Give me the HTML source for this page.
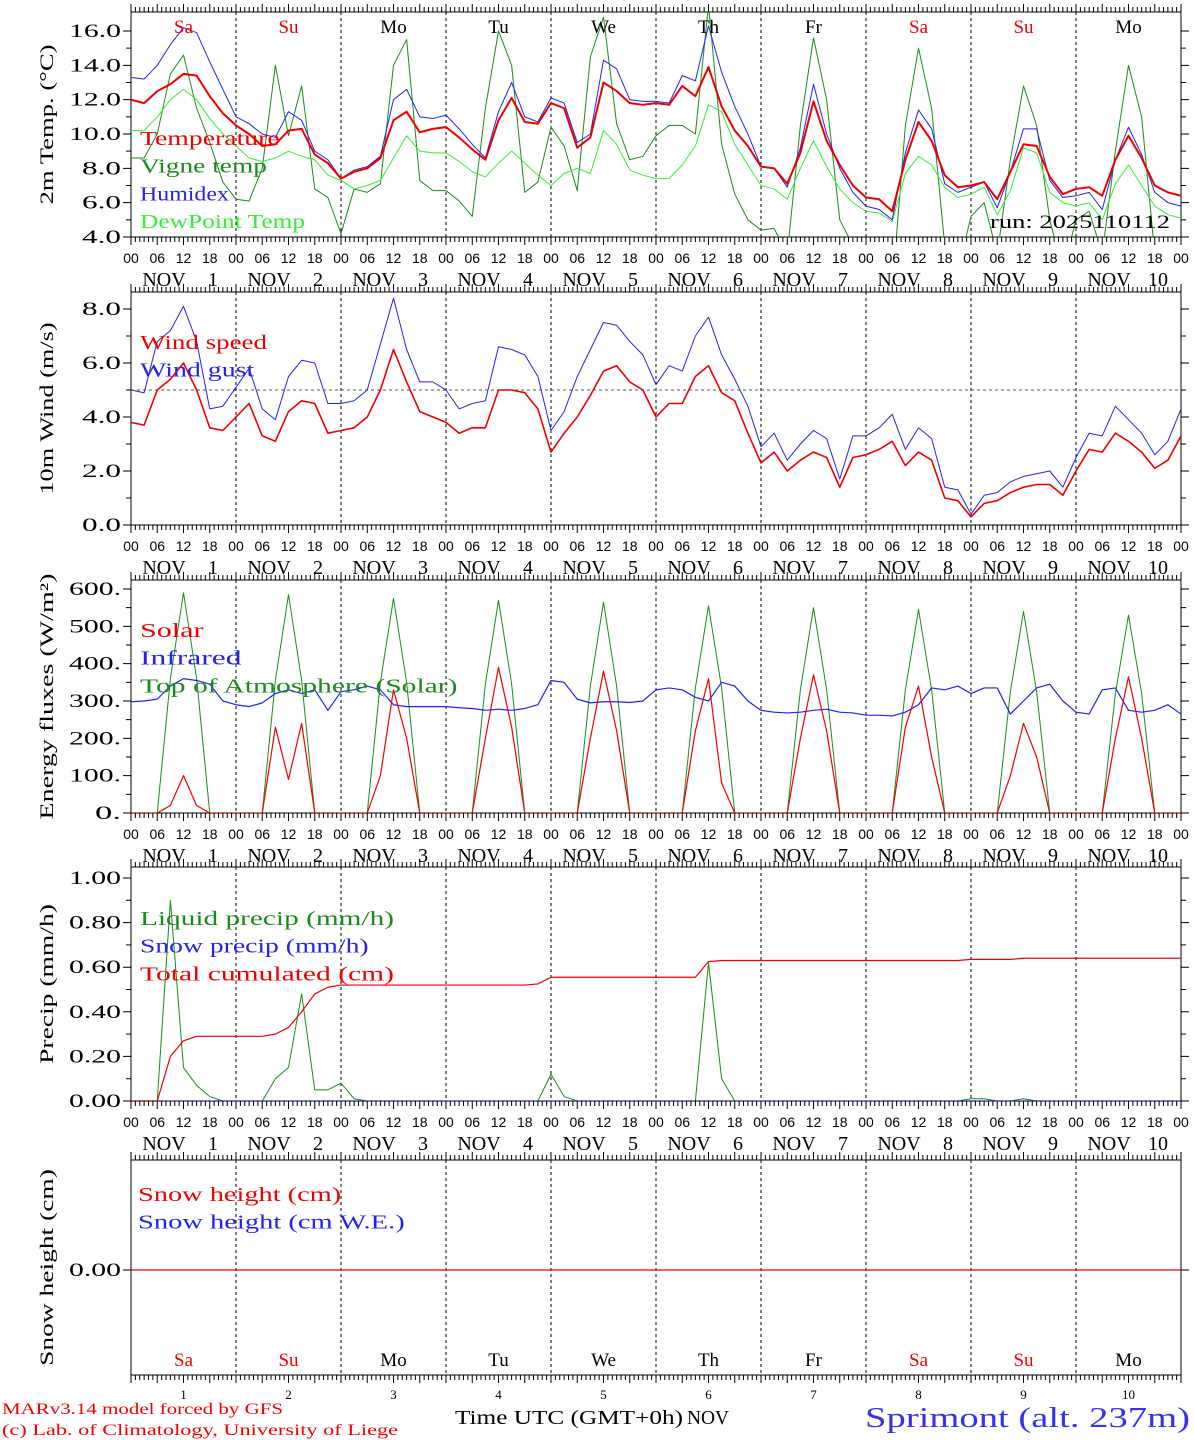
<!DOCTYPE html>
<html><head><meta charset="utf-8"><style>
html,body{margin:0;padding:0;background:#fff;}
svg{display:block;}
</style></head><body>
<svg id="c" width="1194" height="1440" viewBox="0 0 1194 1440" xmlns="http://www.w3.org/2000/svg" font-family="Liberation Serif, serif"></svg>
<script>
// ---- data (3-hourly, 81 points, Nov 1 00h .. Nov 11 00h) ----
const days = ["1","2","3","4","5","6","7","8","9","10"];
const dayNames = ["Sa","Su","Mo","Tu","We","Th","Fr","Sa","Su","Mo"];
const hourLabels = ["00","06","12","18"];
const tempTicks = [4,6,8,10,12,14,16];
const windTicks = [0,2,4,6,8];
const fluxTicks = [0,100,200,300,400,500,600];
const precipTicks = [0,0.2,0.4,0.6,0.8,1.0];
const temperature = [12.0,11.8,12.5,12.9,13.5,13.4,12.2,11.2, 10.5,10.0,9.3,9.4,10.2,10.3,8.8,8.3, 7.4,7.8,8.0,8.6,10.8,11.3,10.1,10.3, 10.4,9.8,9.1,8.5,10.8,12.1,10.7,10.6, 11.8,11.5,9.2,9.8,13.0,12.5,11.8,11.7, 11.8,11.7,12.8,12.2,13.9,11.6,10.2,9.3, 8.1,8.0,7.1,8.9,11.9,9.6,8.2,7.0, 6.3,6.2,5.5,8.5,10.7,9.6,7.6,6.9, 7.0,7.2,6.2,7.8,9.4,9.3,7.5,6.5, 6.8,6.9,6.4,8.5,9.9,8.6,7.0,6.6,6.4];
const humidex = [13.3,13.2,14.0,15.2,16.2,15.9,14.2,12.6, 11.0,10.6,10.0,9.8,11.3,10.8,9.0,8.5, 7.4,7.9,8.1,8.7,12.0,12.6,11.0,10.9, 11.1,10.3,9.4,8.6,11.3,13.0,11.0,10.7, 12.1,11.8,9.5,10.0,14.3,13.8,12.0,11.9, 11.9,11.8,13.4,13.1,16.3,13.6,11.6,10.0, 8.1,8.0,6.9,9.2,12.9,10.0,8.0,6.6, 5.8,5.6,5.0,8.9,11.4,10.3,7.1,6.6, 6.9,7.2,5.7,7.8,10.3,10.3,7.3,6.3, 6.4,6.6,5.6,8.5,10.4,8.8,6.6,6.0,5.8];
const dewpoint = [10.2,10.2,11.0,12.0,12.6,12.0,10.9,10.0, 9.3,8.6,8.4,8.6,9.0,8.7,8.5,7.6, 7.3,6.8,7.0,7.3,8.6,9.9,9.0,8.9, 8.9,8.4,7.8,7.5,8.3,9.0,8.3,7.6, 7.0,7.7,8.0,7.7,10.2,9.4,7.9,7.6, 7.4,7.4,8.2,9.3,11.7,11.3,9.4,8.2, 7.0,6.8,6.2,8.0,9.6,8.1,6.8,6.0, 5.5,5.4,4.9,7.7,8.7,8.2,6.9,6.3, 6.5,6.9,5.3,6.7,9.2,8.9,6.6,6.0, 5.8,6.0,5.0,7.1,8.2,7.0,5.8,5.3,5.1];
const vigne = [8.6,8.6,10.0,13.5,14.6,11.5,9.5,7.2, 6.2,6.1,8.0,14.0,9.9,12.8,6.8,6.3, 4.2,6.8,6.6,7.1,14.0,15.5,7.3,6.7, 6.7,6.1,5.2,11.5,16.0,14.0,6.6,7.2, 10.4,9.3,6.7,14.5,16.8,10.6,8.5,8.7, 9.9,10.5,10.5,10.0,17.5,9.4,6.5,5.0, 4.4,4.5,3.0,10.5,15.6,12.0,5.0,3.5, 2.0,1.5,1.0,10.5,15.0,11.5,3.5,2.0, 5.2,6.0,3.0,8.5,12.8,10.5,5.0,2.0, 5.0,5.5,3.0,9.0,14.0,11.0,3.0,2.0,1.5];
const windSpeed = [3.8,3.7,5.0,5.4,6.0,5.0,3.6,3.5, 4.0,4.5,3.3,3.1,4.2,4.6,4.5,3.4, 3.5,3.6,4.0,5.0,6.5,5.3,4.2,4.0, 3.8,3.4,3.6,3.6,5.0,5.0,4.9,4.3, 2.7,3.4,4.0,4.8,5.7,5.9,5.3,5.0, 4.0,4.5,4.5,5.5,5.9,4.9,4.6,3.4, 2.3,2.7,2.0,2.4,2.7,2.5,1.4,2.5, 2.6,2.8,3.1,2.2,2.7,2.4,1.0,0.9, 0.3,0.8,0.9,1.2,1.4,1.5,1.5,1.1, 2.0,2.8,2.7,3.4,3.1,2.7,2.1,2.4,3.3];
const windGust = [5.0,4.9,6.8,7.2,8.1,6.8,4.3,4.4, 5.1,5.8,4.3,3.9,5.5,6.1,6.0,4.5, 4.5,4.6,5.0,6.7,8.4,6.5,5.3,5.3, 5.0,4.3,4.5,4.6,6.6,6.5,6.3,5.5, 3.5,4.2,5.5,6.5,7.5,7.4,6.8,6.3, 5.2,5.9,5.7,7.0,7.7,6.3,5.4,4.4, 2.9,3.4,2.4,3.0,3.5,3.2,1.7,3.3, 3.3,3.6,4.1,2.8,3.6,3.2,1.4,1.3, 0.4,1.1,1.2,1.6,1.8,1.9,2.0,1.4, 2.5,3.4,3.3,4.4,3.9,3.4,2.6,3.1,4.3];
const solar = [0,0,0,20,100,20,0,0, 0,0,0,230,90,240,0,0, 0,0,0,100,330,200,0,0, 0,0,0,200,390,230,0,0, 0,0,0,200,380,220,0,0, 0,0,0,220,360,80,0,0, 0,0,0,200,370,220,0,0, 0,0,0,230,340,150,0,0, 0,0,0,100,240,150,0,0, 0,0,0,200,365,200,0,0,0];
const infrared = [298,300,305,340,360,355,345,300, 290,285,295,320,330,320,330,275, 325,330,340,330,290,285,285,285, 285,282,280,275,278,275,280,290, 355,350,305,295,298,298,296,300, 330,335,330,310,300,350,340,300, 275,270,268,270,275,278,270,268, 262,262,260,270,290,335,330,340, 320,335,335,265,300,335,345,300, 270,265,330,335,275,270,275,290,265];
const toa = [0,0,0,360,590,360,0,0, 0,0,0,355,585,355,0,0, 0,0,0,350,575,350,0,0, 0,0,0,345,570,345,0,0, 0,0,0,340,565,340,0,0, 0,0,0,335,555,335,0,0, 0,0,0,330,550,330,0,0, 0,0,0,330,545,330,0,0, 0,0,0,325,540,325,0,0, 0,0,0,320,530,320,0,0,0];
const liquid = [0,0,0,0.90,0.15,0.07,0.02,0, 0,0,0,0.10,0.15,0.48,0.05,0.05, 0.08,0.01,0,0,0,0,0,0, 0,0,0,0,0,0,0,0, 0.12,0.02,0,0,0,0,0,0, 0,0,0,0,0.62,0.10,0,0, 0,0,0,0,0,0,0,0, 0,0,0,0,0,0,0,0, 0.01,0.01,0,0,0.01,0,0,0, 0,0,0,0,0,0,0,0,0];
const snowPrecip = [0,0,0,0,0,0,0,0, 0,0,0,0,0,0,0,0, 0,0,0,0,0,0,0,0, 0,0,0,0,0,0,0,0, 0,0,0,0,0,0,0,0, 0,0,0,0,0,0,0,0, 0,0,0,0,0,0,0,0, 0,0,0,0,0,0,0,0, 0,0,0,0,0,0,0,0, 0,0,0,0,0,0,0,0,0];
const totalCum = [0,0,0,0.20,0.27,0.29,0.29,0.29, 0.29,0.29,0.29,0.30,0.33,0.40,0.48,0.51, 0.52,0.52,0.52,0.52,0.52,0.52,0.52,0.52, 0.52,0.52,0.52,0.52,0.52,0.52,0.52,0.525, 0.555,0.555,0.555,0.555,0.555,0.555,0.555,0.555, 0.555,0.555,0.555,0.555,0.625,0.63,0.63,0.63, 0.63,0.63,0.63,0.63,0.63,0.63,0.63,0.63, 0.63,0.63,0.63,0.63,0.63,0.63,0.63,0.63, 0.635,0.635,0.635,0.635,0.64,0.64,0.64,0.64, 0.64,0.64,0.64,0.64,0.64,0.64,0.64,0.64,0.64];
const snowHeight = [0,0,0,0,0,0,0,0, 0,0,0,0,0,0,0,0, 0,0,0,0,0,0,0,0, 0,0,0,0,0,0,0,0, 0,0,0,0,0,0,0,0, 0,0,0,0,0,0,0,0, 0,0,0,0,0,0,0,0, 0,0,0,0,0,0,0,0, 0,0,0,0,0,0,0,0, 0,0,0,0,0,0,0,0,0];

const NS="http://www.w3.org/2000/svg";
const svg=document.getElementById('c');
const X0=131,X1=1181,DAYW=105;
function xh(h){return X0+h*DAYW/24;}
function xi(i){return xh(i*3);}
function mk(tag,attrs,parent){const e=document.createElementNS(NS,tag);for(const k in attrs)e.setAttribute(k,attrs[k]);(parent||svg).appendChild(e);return e;}
function txt(s,x,y,attrs,parent,len){const e=mk('text',Object.assign({x:x,y:y},attrs),parent);e.textContent=s;
  if(len){e.setAttribute('textLength',len);e.setAttribute('lengthAdjust','spacingAndGlyphs');}return e;}

const panels=[
 {id:'temp',top:12,bot:237,v0:4,p0:237,v1:16,p1:31,ticks:tempTicks,minor:1,fmt:v=>v.toFixed(1),title:'2m Temp. (\u00B0C)',hours:true},
 {id:'wind',top:292,bot:525,v0:0,p0:525,v1:8,p1:309,ticks:windTicks,minor:1,fmt:v=>v.toFixed(1),title:'10m Wind (m/s)',hours:true},
 {id:'flux',top:580,bot:813,v0:0,p0:813,v1:600,p1:589,ticks:fluxTicks,minor:50,fmt:v=>v.toFixed(0)+'.',title:'Energy fluxes (W/m\u00B2)',hours:true},
 {id:'precip',top:867,bot:1101,v0:0,p0:1101,v1:1,p1:878,ticks:precipTicks,minor:0.1,fmt:v=>v.toFixed(2),title:'Precip (mm/h)',hours:true},
 {id:'snow',top:1160,bot:1375,v0:0,p0:1270,v1:1,p1:1160,ticks:[0],minor:0,fmt:v=>v.toFixed(2),title:'Snow height (cm)',hours:false}
];
panels.forEach(p=>{p.y=v=>p.p0+(v-p.v0)*(p.p1-p.p0)/(p.v1-p.v0);});

panels.forEach((p,pi)=>{
  const g=mk('g',{});
  
  
  const cp=mk('clipPath',{id:'cl'+pi},g);
  mk('rect',{x:X0,y:p.top,width:X1-X0,height:p.bot-p.top},cp);
  const fr=mk('rect',{x:X0,y:p.top,width:X1-X0,height:p.bot-p.top,fill:'none',stroke:'#000','stroke-width':1},g);
  
  
  for(let d=1;d<10;d++){
    const l=mk('line',{x1:xh(d*24),x2:xh(d*24),y1:p.top,y2:p.bot,stroke:'#000','stroke-dasharray':'3,3','stroke-width':1},g);
    
    
  }
  let tk='';
  for(let h=0;h<=240;h++){
    const x=xh(h).toFixed(2);
    const len=(h%6==0)?8:5;
    tk+=`M${x} ${p.bot}v${len}M${x} ${p.top}v${-len}`;
  }
  mk('path',{d:tk,stroke:'#000','stroke-width':1,fill:'none'},g);
  let yt='';
  p.ticks.forEach(v=>{const y=p.y(v);yt+=`M${X0} ${y}h-8M${X1} ${y}h8`;
    const s=p.fmt(v);
    const t=txt(s,121,y+6,{'text-anchor':'end','font-size':19},g,s.length*13);
    
    
  });
  if(p.minor){for(let v=p.v0;v<=p.ticks[p.ticks.length-1]+1e-9;v+=p.minor){const y=p.y(v);yt+=`M${X0} ${y}h-5M${X1} ${y}h5`;}}
  mk('path',{d:yt,stroke:'#000','stroke-width':1},g);
  const cy=(p.top+p.bot)/2;
  const tt=txt(p.title,0,0,{'font-size':19,'text-anchor':'middle',transform:`translate(53,${cy}) rotate(-90)`},g,p.title.length*12.3);
  
  
  if(p.hours){
    for(let d=0;d<=10;d++){
      for(let k=0;k<4;k++){
        if(d==10&&k>0)break;
        const t=txt(hourLabels[k],xh(d*24+k*6),p.bot+26,{'text-anchor':'middle','font-size':14,'font-family':'Liberation Sans, sans-serif'},g);
        
        
      }
      if(d<10){
        const a=txt('NOV',xh(d*24)+33,p.bot+49,{'text-anchor':'middle','font-size':20},g);
        
        
        const b=txt(days[d],xh(d*24)+82,p.bot+49,{'text-anchor':'middle','font-size':20},g);
        
        
      }
    }
  }
  p.g=g;
});

function series(p,arr,color,w,name,pi){
  let d='';
  arr.forEach((v,i)=>{d+=(i?'L':'M')+xi(i).toFixed(2)+' '+p.y(v).toFixed(2);});
  const e=mk('path',{d:d,fill:'none',stroke:color,'stroke-width':w,'clip-path':`url(#cl${pi})`,'stroke-linejoin':'round'},p.g);
  
  
}
function legend(p,items,x,y0){
  items.forEach((it,k)=>{
    const t=txt(it[0],x,y0+k*27.7,{fill:it[1],'font-size':20},p.g,it[0].length*12.7);
    
    
  });
}
const P=panels;
series(P[0],vigne,'#1a8a1a',1,'vigne-temp-line',0);
series(P[0],dewpoint,'#33ee33',1,'dewpoint-line',0);
series(P[0],humidex,'#2222ee',1,'humidex-line',0);
series(P[0],temperature,'#ee0000',2,'temperature-line',0);
legend(P[0],[['Temperature','#ee0000'],['Vigne temp','#1a8a1a'],['Humidex','#2222ee'],['DewPoint Temp','#33ee33']],140,145);
dayNames.forEach((n,d)=>{const t=txt(n,xh(d*24+12),33,{'text-anchor':'middle','font-size':19,fill:(n=='Sa'||n=='Su')?'#ee0000':'#000'},P[0].g);
  });
{const t=txt('run: 2025110112',990,228,{'font-size':19},P[0].g,180);
 }
{const l=mk('line',{x1:X0,x2:X1,y1:P[1].y(5),y2:P[1].y(5),stroke:'#555','stroke-dasharray':'3,3'},P[1].g);
 }
series(P[1],windGust,'#2222ee',1,'wind-gust-line',1);
series(P[1],windSpeed,'#ee0000',1.6,'wind-speed-line',1);
legend(P[1],[['Wind speed','#ee0000'],['Wind gust','#2222ee']],140,349);
series(P[2],toa,'#1a8a1a',1,'toa-solar-line',2);
series(P[2],infrared,'#2222ee',1.2,'infrared-line',2);
series(P[2],solar,'#ee0000',1.2,'solar-line',2);
legend(P[2],[['Solar','#ee0000'],['Infrared','#2222ee'],['Top of Atmosphere (Solar)','#1a8a1a']],140,637);
series(P[3],liquid,'#1a8a1a',1,'liquid-precip-line',3);
series(P[3],snowPrecip,'#2222ee',1.2,'snow-precip-line',3);
series(P[3],totalCum,'#ee0000',1.2,'total-cumulated-line',3);
legend(P[3],[['Liquid precip (mm/h)','#1a8a1a'],['Snow precip (mm/h)','#2222ee'],['Total cumulated (cm)','#ee0000']],140,925);
series(P[4],snowHeight,'#ee0000',1.2,'snow-height-line',4);
legend(P[4],[['Snow height (cm)','#ee0000'],['Snow height (cm W.E.)','#2222ee']],138,1201);
dayNames.forEach((n,d)=>{const t=txt(n,xh(d*24+12),1366,{'text-anchor':'middle','font-size':19,fill:(n=='Sa'||n=='Su')?'#ee0000':'#000'},P[4].g);
  
  const u=txt(days[d],xh(d*24+12),1399,{'text-anchor':'middle','font-size':13},P[4].g);
  });
[['MARv3.14 model forced by GFS',2,1414,'#ee0000',16,'model-credit',281],['(c) Lab. of Climatology, University of Liege',2,1435,'#ee0000',16,'lab-credit',396],
 ['Time UTC (GMT+0h)',455,1424,'#000',20,'x-axis-title',228],['NOV',687,1424,'#000',20,'x-axis-month',42],['Sprimont (alt. 237m)',865,1427,'#3333ee',29,'station-title',325]].forEach(a=>{
  const t=txt(a[0],a[1],a[2],{fill:a[3],'font-size':a[4]},svg,a[6]);
  
  
});
</script>
</body></html>
